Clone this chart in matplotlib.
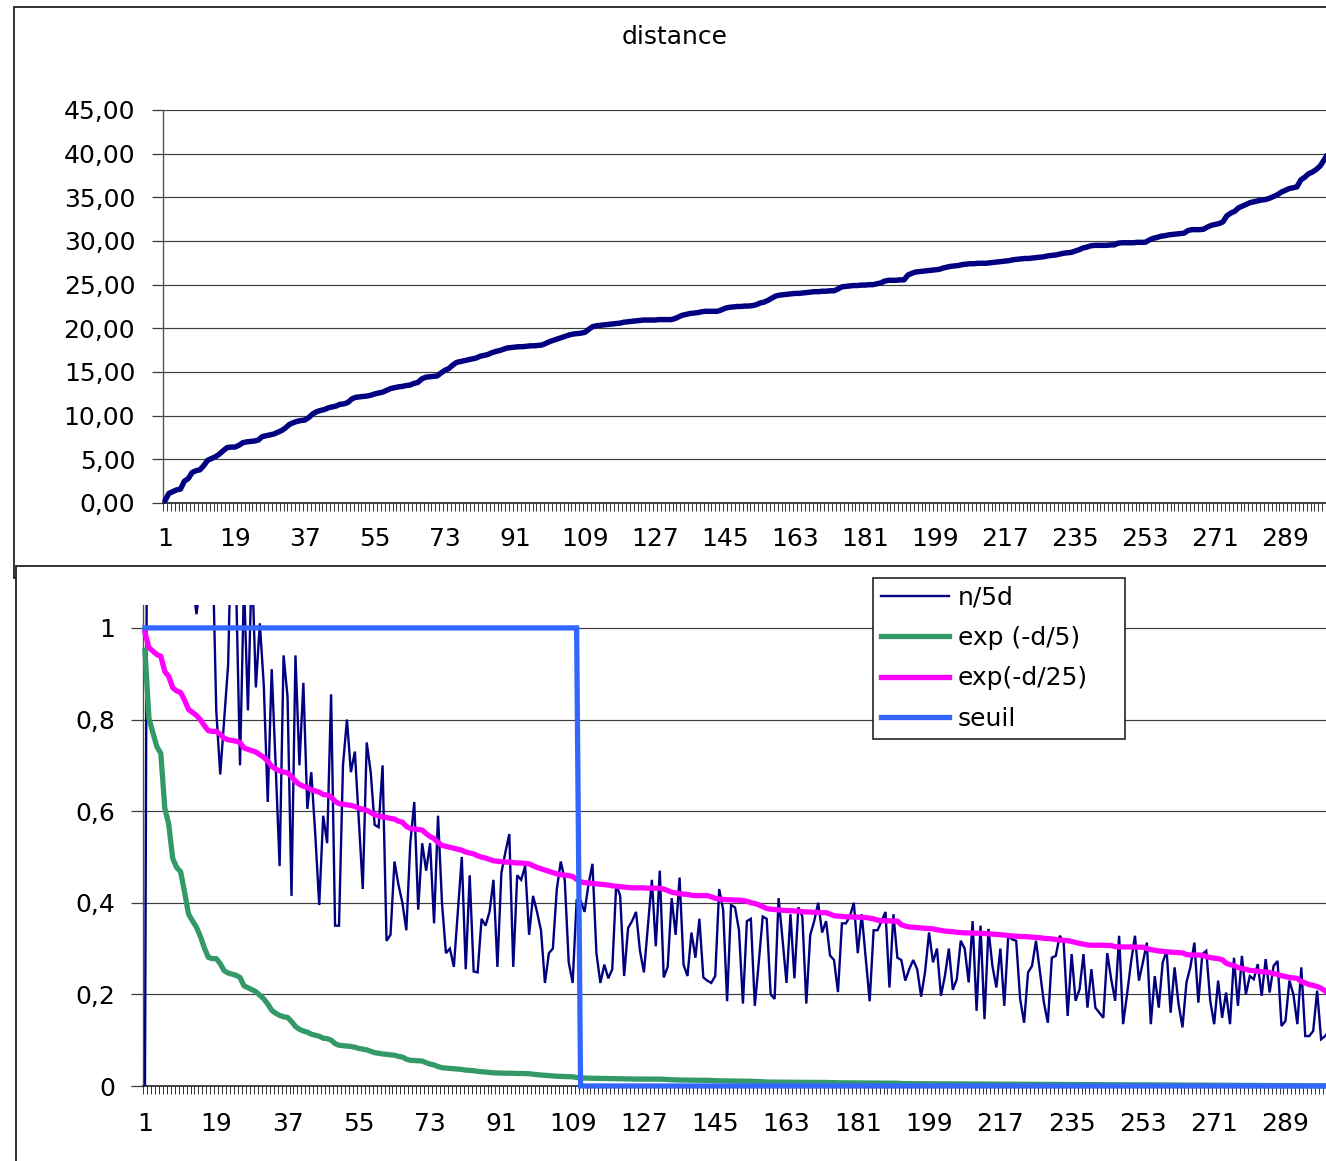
import numpy as np
import matplotlib
matplotlib.use("Agg")
import matplotlib.pyplot as plt
from matplotlib.patches import Rectangle

W, H, DPI = 1326, 1161, 100

# ---------------- data ----------------
distance = [
    0.25, 1.1, 1.3, 1.5, 1.6, 2.5, 2.8, 3.5, 3.7, 3.8,
    4.3, 4.9, 5.1, 5.3, 5.6, 6.0, 6.35, 6.4, 6.4, 6.6,
    6.9, 7.0, 7.05, 7.1, 7.2, 7.6, 7.7, 7.8, 7.9, 8.1,
    8.3, 8.6, 9.0, 9.2, 9.35, 9.45, 9.5, 9.8, 10.2, 10.45,
    10.6, 10.7, 10.9, 11.0, 11.1, 11.3, 11.35, 11.5, 11.9, 12.1,
    12.15, 12.2, 12.25, 12.35, 12.5, 12.6, 12.7, 12.9, 13.1, 13.2,
    13.3, 13.35, 13.45, 13.5, 13.7, 13.8, 14.2, 14.4, 14.45, 14.5,
    14.55, 14.9, 15.2, 15.4, 15.8, 16.1, 16.2, 16.3, 16.4, 16.5,
    16.6, 16.8, 16.9, 17.0, 17.2, 17.35, 17.45, 17.6, 17.75, 17.8,
    17.85, 17.9, 17.9, 17.95, 18.0, 18.0, 18.05, 18.1, 18.3, 18.5,
    18.65, 18.8, 18.95, 19.1, 19.25, 19.35, 19.4, 19.45, 19.55, 19.9,
    20.2, 20.3, 20.35, 20.4, 20.45, 20.5, 20.55, 20.6, 20.7, 20.75,
    20.8, 20.85, 20.9, 20.95, 20.95, 20.95, 20.95, 21.0, 21.0, 21.0,
    21.0, 21.1, 21.3, 21.5, 21.6, 21.7, 21.75, 21.8, 21.9, 21.95,
    21.95, 21.95, 21.95, 22.1, 22.3, 22.4, 22.45, 22.5, 22.5, 22.55,
    22.55, 22.6, 22.7, 22.9, 23.0, 23.2, 23.45, 23.7, 23.8, 23.85,
    23.9, 23.95, 24.0, 24.0, 24.05, 24.1, 24.15, 24.2, 24.2, 24.25,
    24.25, 24.3, 24.3, 24.5, 24.75, 24.8, 24.85, 24.9, 24.9, 24.95,
    24.95, 25.0, 25.0, 25.1, 25.2, 25.4, 25.5, 25.5, 25.5, 25.55,
    25.55, 26.1, 26.3, 26.45, 26.5, 26.55, 26.6, 26.65, 26.7, 26.75,
    26.9, 27.0, 27.1, 27.15, 27.2, 27.3, 27.35, 27.4, 27.4, 27.45,
    27.45, 27.45, 27.5, 27.55, 27.6, 27.65, 27.7, 27.75, 27.85, 27.9,
    27.95, 28.0, 28.0, 28.05, 28.1, 28.15, 28.2, 28.3, 28.35, 28.4,
    28.5, 28.6, 28.65, 28.7, 28.85, 29.0, 29.2, 29.3, 29.45, 29.5,
    29.5, 29.5, 29.5, 29.55, 29.55, 29.75, 29.8, 29.8, 29.8, 29.8,
    29.85, 29.85, 29.85, 30.1, 30.3, 30.4, 30.55, 30.6, 30.7, 30.75,
    30.8, 30.85, 30.9, 31.2, 31.3, 31.3, 31.3, 31.35, 31.6, 31.8,
    31.9, 32.0, 32.2, 32.9, 33.2, 33.4, 33.8, 34.0, 34.2, 34.4,
    34.5, 34.6, 34.7, 34.75, 34.9, 35.1, 35.3, 35.6, 35.8, 36.0,
    36.1, 36.2, 37.0, 37.3, 37.7, 37.9, 38.2, 38.6, 39.3, 40.0,
]

n_5d = [
    0.0, 2.5, 2.0, 1.6, 1.5, 1.25, 1.3, 1.15, 1.2, 1.25,
    1.15, 1.2, 1.1, 1.03, 1.1, 1.15, 1.2, 1.2, 0.82, 0.68,
    0.8, 0.92, 1.3, 1.1, 0.70, 1.1, 0.82, 1.15, 0.87, 1.01,
    0.875, 0.62, 0.91, 0.70, 0.48, 0.94, 0.85, 0.415, 0.94, 0.70,
    0.88, 0.605, 0.685, 0.55, 0.395, 0.59, 0.53, 0.855, 0.35, 0.35,
    0.70, 0.80, 0.685, 0.73, 0.58, 0.43, 0.75, 0.685, 0.57, 0.565,
    0.70, 0.317, 0.33, 0.49, 0.44, 0.40, 0.34, 0.53, 0.62, 0.385,
    0.53, 0.47, 0.53, 0.355, 0.59, 0.40, 0.29, 0.30, 0.26, 0.38,
    0.50, 0.255, 0.46, 0.25, 0.248, 0.365, 0.35, 0.38, 0.45, 0.26,
    0.465, 0.51, 0.55, 0.26, 0.46, 0.45, 0.48, 0.33, 0.415, 0.38,
    0.34, 0.225, 0.29, 0.30, 0.43, 0.49, 0.45, 0.27, 0.225, 0.405,
    0.405, 0.38, 0.44, 0.485, 0.29, 0.225, 0.265, 0.235, 0.255, 0.44,
    0.415, 0.24, 0.345, 0.36, 0.38, 0.295, 0.248, 0.35, 0.45, 0.305,
    0.47, 0.237, 0.26, 0.41, 0.33, 0.455, 0.265, 0.24, 0.335, 0.28,
    0.365, 0.237, 0.23, 0.225, 0.24, 0.43, 0.385, 0.185, 0.395, 0.39,
    0.34, 0.18, 0.36, 0.365, 0.175, 0.27, 0.37, 0.365, 0.20, 0.19,
    0.41, 0.32, 0.225, 0.375, 0.235, 0.39, 0.37, 0.18, 0.33, 0.36,
    0.40, 0.335, 0.36, 0.285, 0.275, 0.205, 0.355, 0.355, 0.37, 0.40,
    0.29, 0.375, 0.28, 0.185, 0.34, 0.34, 0.36, 0.38, 0.215, 0.375,
    0.28, 0.275, 0.23, 0.255, 0.275, 0.255, 0.195, 0.25, 0.335, 0.27,
    0.30, 0.197, 0.24, 0.30, 0.21, 0.233, 0.317, 0.30, 0.226, 0.36,
    0.164, 0.35, 0.146, 0.343, 0.262, 0.215, 0.30, 0.175, 0.328, 0.32,
    0.317, 0.19, 0.138, 0.248, 0.262, 0.317, 0.25, 0.182, 0.138, 0.28,
    0.284, 0.328, 0.313, 0.153, 0.288, 0.186, 0.211, 0.288, 0.171, 0.255,
    0.171, 0.16, 0.149, 0.29, 0.233, 0.186, 0.328, 0.135, 0.20, 0.27,
    0.328, 0.23, 0.27, 0.313, 0.135, 0.24, 0.171, 0.27, 0.295, 0.16,
    0.259, 0.179, 0.128, 0.226, 0.26, 0.313, 0.182, 0.288, 0.295, 0.186,
    0.135, 0.23, 0.149, 0.204, 0.135, 0.28, 0.175, 0.284, 0.20, 0.24,
    0.233, 0.266, 0.197, 0.277, 0.204, 0.262, 0.273, 0.131, 0.142, 0.23,
    0.20, 0.135, 0.259, 0.109, 0.109, 0.12, 0.208, 0.102, 0.109, 0.12,
]

seuil = [1.0] * 110 + [0.0] * 190

x_tick_labels = [1, 19, 37, 55, 73, 91, 109, 127, 145, 163, 181,
                 199, 217, 235, 253, 271, 289]
top_yticks = [0, 5, 10, 15, 20, 25, 30, 35, 40, 45]
bot_yticks = [0, 0.2, 0.4, 0.6, 0.8, 1.0]
bot_ylabels = ["0", "0,2", "0,4", "0,6", "0,8", "1"]

# series defined in the legend from the distance values
d_arr = np.array(distance)
exp_d5 = np.exp(-d_arr / 5.0)
exp_d25 = np.exp(-d_arr / 25.0)

# ---------------- figure ----------------
FS = 18
plt.rcParams['font.family'] = ['DejaVu Sans']
fig = plt.figure(figsize=(W / DPI, H / DPI), dpi=DPI)
fig.patch.set_facecolor('white')


def fx(px):
    return px / W


def fy(py):
    return 1 - py / H


# chart frames (Excel chart areas); lower chart overlaps the upper one
fig.add_artist(Rectangle((fx(14), fy(578)), fx(1500 - 14), (578 - 7) / H,
                         transform=fig.transFigure, facecolor='white',
                         edgecolor='#222222', lw=1.3, zorder=-3))
fig.add_artist(Rectangle((fx(16), fy(1300)), fx(1500 - 16), (1300 - 566) / H,
                         transform=fig.transFigure, facecolor='white',
                         edgecolor='#222222', lw=1.3, zorder=-2))

GRID_C = '#3c3c3c'


def style_axes(ax, xmax, ytick_len, ytick_pad, xpad):
    ax.set_facecolor('none')
    for s in ('top', 'right'):
        ax.spines[s].set_visible(False)
    ax.spines['left'].set_color('#555555')
    ax.spines['left'].set_linewidth(1.0)
    ax.spines['bottom'].set_color('#111111')
    ax.spines['bottom'].set_linewidth(1.1)
    ax.set_xlim(0.5, xmax)
    ax.set_xticks(x_tick_labels)
    ax.set_xticklabels([str(v) for v in x_tick_labels])
    ax.set_xticks(np.arange(0.5, 301.0, 1.0), minor=True)
    ax.tick_params(axis='x', which='major', length=0, pad=xpad, labelsize=FS)
    ax.tick_params(axis='x', which='minor', length=5.8, width=0.7,
                   color='#333333', direction='out')
    ax.tick_params(axis='y', which='major', length=ytick_len, width=0.9,
                   color=GRID_C, pad=ytick_pad, labelsize=FS)
    ax.yaxis.grid(True, color=GRID_C, lw=0.85)
    ax.set_axisbelow(True)


# ---------------- top chart: distance ----------------
ax1 = fig.add_axes([fx(163), fy(503), fx(1330 - 163), 393 / H], zorder=1)
style_axes(ax1, 300.5, 8.0, 12.0, 17.5)
ax1.set_ylim(0, 45)
ax1.set_yticks(top_yticks)
ax1.set_yticklabels([f"{v:.2f}".replace('.', ',') for v in top_yticks])
x1 = np.arange(1, len(distance) + 1)
ax1.plot(x1, distance, color='#000080', lw=3.9, clip_on=False,
         solid_joinstyle='round', solid_capstyle='round', zorder=3)
fig.text(fx(675), fy(37), 'distance', ha='center', va='center', fontsize=FS)

# ---------------- bottom chart ----------------
ax2 = fig.add_axes([fx(143), fy(1086), fx(1331 - 143), 481 / H], zorder=1)
style_axes(ax2, 300.5, 8.6, 11.5, 19.0)
ax2.set_ylim(0, 1.05)
ax2.set_yticks(bot_yticks)
ax2.set_yticklabels(bot_ylabels)

l_n, = ax2.plot(np.arange(1, len(n_5d) + 1), n_5d, color='#000080', lw=1.7,
                zorder=3, solid_joinstyle='miter')
l_g, = ax2.plot(np.arange(1, len(exp_d5) + 1), exp_d5, color='#339966',
                lw=3.8, clip_on=False, zorder=4, solid_joinstyle='round')
l_m, = ax2.plot(np.arange(1, len(exp_d25) + 1), exp_d25, color='#FF00FF',
                lw=3.8, clip_on=False, zorder=5, solid_joinstyle='round')
l_s, = ax2.plot(np.arange(1, len(seuil) + 1), seuil, color='#3366FF',
                lw=3.8, clip_on=False, zorder=6, solid_joinstyle='miter')

leg = ax2.legend([l_n, l_g, l_m, l_s],
                 ['n/5d', 'exp (-d/5)', 'exp(-d/25)', 'seuil'],
                 loc='upper left', mode='expand',
                 bbox_to_anchor=(fx(873), fy(738), 252 / W, 160 / H),
                 bbox_transform=fig.transFigure,
                 frameon=True, fancybox=False, framealpha=1,
                 edgecolor='#111111', facecolor='white',
                 borderaxespad=0, borderpad=0.3, handlelength=2.75,
                 handletextpad=0.35, labelspacing=0.66, fontsize=FS)
leg.get_frame().set_linewidth(1.1)
leg.set_zorder(10)

fig.savefig('out.png', dpi=DPI, facecolor='white')
